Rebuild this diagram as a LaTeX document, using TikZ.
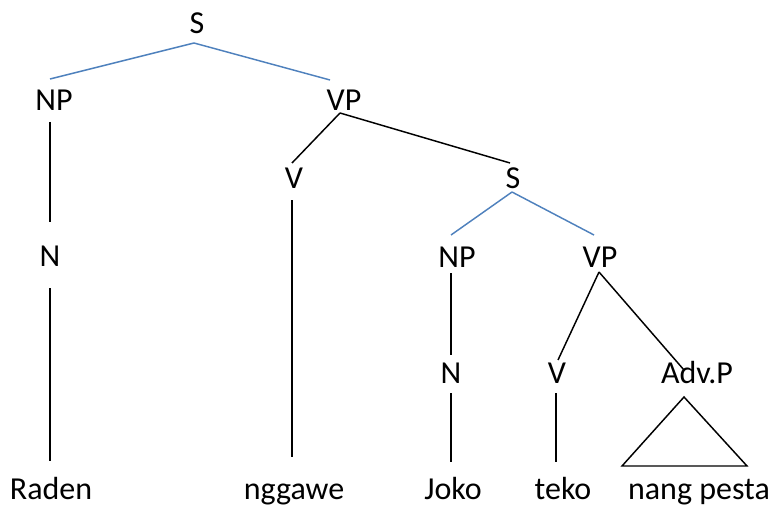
\documentclass[tikz,border=0pt]{standalone}
\usepackage{fontspec}
\setmainfont{Carlito}
\usetikzlibrary{calc}
\definecolor{treeblue}{RGB}{79,129,189}
\tikzstyle{lbl} = [inner sep=0pt, anchor=base, font=\fontsize{24}{28}\selectfont]
\tikzstyle{branch} = [line width=1.1pt, black]
\tikzstyle{bluebranch} = [line width=1.1pt, treeblue]

\begin{document}
\begin{tikzpicture}[x=0.75pt, y=-0.75pt]
		\useasboundingbox (0,0) rectangle (773,506);
		% labels
		\node (s) [lbl] at (197,34) {S};
		\node (np) [lbl] at (54,111) {NP};
		\node (vp) [lbl] at (344,111) {VP};
		\node (n) [lbl] at (50,266) {N};
		\node (v) [lbl] at (294,188) {V};
		\node (s2) [lbl] at (513,188) {S};
		\node (np2) [lbl] at (457,267) {NP};
		\node (vp2) [lbl] at (600,267) {VP};
		\node (n2) [lbl] at (451,383) {N};
		\node (v2) [lbl] at (557,383) {V};
		\node (advp) [lbl] at (697,383) {Adv.P};
		% words
		\node (raden) [lbl] at (51,499) {Raden};
		\node (nggawe) [lbl] at (294,499) {nggawe};
		\node (joko) [lbl] at (453,499) {Joko};
		\node (teko) [lbl] at (563,499) {teko};
		\node (pesta) [lbl] at (699,499) {nang pesta};
	
		\draw [bluebranch] ($(s.base)+(-3,9)$) -- ($(np.base)+(-4,-32)$);
		\draw [bluebranch] ($(s.base)+(-3,9)$) -- ($(vp.base)+(-14,-31)$);
		\draw [branch] ($(np.base)+(-4,11)$) -- ($(n.base)+(0,-44)$);
		\draw [branch] ($(n.base)+(0,22)$) -- ($(raden.base)+(-1,-38)$);
		\draw [branch] ($(vp.base)+(-4,2)$) -- ($(v.base)+(-2,-25)$);
		\draw [branch] ($(vp.base)+(-4,2)$) -- ($(s2.base)+(-3,-25)$);
		\draw [branch] ($(v.base)+(-2,12)$) -- ($(nggawe.base)+(-2,-42)$);
		\draw [bluebranch] ($(s2.base)+(-1,4)$) -- ($(np2.base)+(-6,-32)$);
		\draw [bluebranch] ($(s2.base)+(-1,4)$) -- ($(vp2.base)+(-6,-32)$);
		\draw [branch] ($(np2.base)+(-6,6)$) -- ($(n2.base)+(0,-28)$);
		\draw [branch] ($(n2.base)+(0,10)$) -- ($(joko.base)+(-2,-37)$);
		\draw [branch] ($(vp2.base)+(-1,5)$) -- ($(v2.base)+(1,-23)$);
		\draw [branch] ($(vp2.base)+(-1,5)$) -- ($(advp.base)+(-13,-13)$);
		\draw [branch] ($(v2.base)+(-1,10)$) -- ($(teko.base)+(-7,-37)$);
		% roof over the phrase
		\draw [branch] ($(advp.base)+(-13,14)$) -- ($(pesta.base)+(-77,-33)$) -- ($(pesta.base)+(48,-33)$) -- cycle;
	\end{tikzpicture}
\end{document}
